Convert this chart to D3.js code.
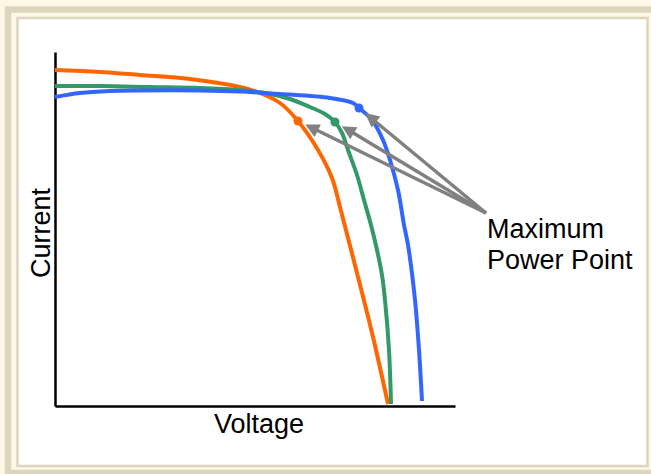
<!DOCTYPE html>
<html>
<head>
<meta charset="utf-8">
<script src="https://cdn.jsdelivr.net/npm/d3@7"></script>
<style>
  html, body { margin: 0; padding: 0; background: #fff6e6; }
  svg { display: block; }
  text { font-family: "Liberation Sans", Arial, sans-serif; fill: #000; }
</style>
</head>
<body>
<svg id="chart" width="651" height="474"></svg>
<script>
// ---- data (arbitrary units: voltage, current) ----
const orangeV = [0, 4.5, 8.5, 13.5, 18.5, 20.5, 22.5, 24.3, 26.3, 27.7, 28.5, 30.2, 31.8, 33.3];
const orangeI = [3.36, 3.34, 3.31, 3.27, 3.19, 3.13, 3.03, 2.85, 2.56, 2.28, 1.99, 1.33, 0.69, 0.02];

const greenV = [0, 4.5, 9.5, 14.5, 18.5, 21, 23.5, 25.5, 27, 28, 28.7, 29.3, 30.2, 30.9, 31.6, 32.2, 32.7, 33.0, 33.4, 33.6];
const greenI = [3.20, 3.20, 3.19, 3.18, 3.16, 3.13, 3.07, 2.99, 2.92, 2.84, 2.73, 2.56, 2.31, 2.06, 1.81, 1.56, 1.31, 1.06, 0.56, 0.02];

const blueV = [0, 2.5, 5.5, 8.5, 14.5, 18.5, 22.5, 27.5, 29.8, 30.4, 31.7, 32.8, 33.5, 34.3, 34.9, 35.3, 36, 36.4, 36.7];
const blueI = [3.09, 3.13, 3.15, 3.155, 3.155, 3.145, 3.12, 3.08, 3.03, 2.98, 2.86, 2.66, 2.46, 2.16, 1.81, 1.61, 1.06, 0.56, 0.05];

const seriesNames = ["orange", "green", "blue"];
const mppV = [24.3, 28.0, 30.4];
const mppI = [2.85, 2.84, 2.98];
const labelAnchor = [43.1, 1.93];   // where the arrows start (voltage, current)
const xTitle = "Voltage";
const yTitle = "Current";
const noteLines = ["Maximum", "Power Point"];

const colors = { orange: "#ff6600", green: "#339966", blue: "#3366ff" };

// ---- layout ----
const svg = d3.select("#chart");
const W = 651, H = 474;

// frame
svg.append("rect").attr("x", 0).attr("y", 0).attr("width", W).attr("height", H).attr("fill", "#fff6e6");
svg.append("rect").attr("x", 8).attr("y", 9.5).attr("width", 700).attr("height", 463.5)
  .attr("fill", "none").attr("stroke", "#ddd5bd").attr("stroke-width", 6.5);
svg.append("rect").attr("x", 17.5).attr("y", 18).attr("width", 630).attr("height", 448)
  .attr("fill", "#ffffff").attr("stroke", "#ddd5bf").attr("stroke-width", 2.5);

const x = d3.scaleLinear().domain([0, 40]).range([55, 455]);
const y = d3.scaleLinear().domain([0, 3.54]).range([406, 52]);

// axes (no ticks)
const xAxis = d3.axisBottom(x).tickValues([]).tickSizeOuter(0);
const yAxis = d3.axisLeft(y).tickValues([]).tickSizeOuter(0);
svg.append("g").attr("transform", `translate(0,${y(0)})`).call(xAxis)
  .select(".domain").attr("stroke", "#000").attr("stroke-width", 2.5);
svg.append("g").attr("transform", `translate(${x(0)},0)`).call(yAxis)
  .select(".domain").attr("stroke", "#000").attr("stroke-width", 2.5);

// curves
const line = d3.line().x(d => x(d[0])).y(d => y(d[1])).curve(d3.curveCatmullRom.alpha(0.5));
const seriesData = {
  orange: d3.zip(orangeV, orangeI),
  green: d3.zip(greenV, greenI),
  blue: d3.zip(blueV, blueI)
};
seriesNames.forEach(n => {
  svg.append("path").datum(seriesData[n])
    .attr("fill", "none").attr("stroke", colors[n])
    .attr("stroke-width", 4).attr("stroke-linejoin", "round")
    .attr("d", line);
});

// MPP dots
seriesNames.forEach((n, i) => {
  svg.append("circle").attr("cx", x(mppV[i])).attr("cy", y(mppI[i])).attr("r", 4.5)
    .attr("fill", colors[n]);
});

// arrows
const ax = x(labelAnchor[0]), ay = y(labelAnchor[1]);
seriesNames.forEach((n, i) => {
  const px = x(mppV[i]), py = y(mppI[i]);
  const dx = px - ax, dy = py - ay;
  const len = Math.hypot(dx, dy);
  const ux = dx / len, uy = dy / len;
  const tipX = ax + ux * (len - 8), tipY = ay + uy * (len - 8);
  const headL = 14, headW = 7;
  const bx = tipX - ux * headL, by = tipY - uy * headL;
  svg.append("line").attr("x1", ax).attr("y1", ay).attr("x2", bx + ux * 2).attr("y2", by + uy * 2)
    .attr("stroke", "#808080").attr("stroke-width", 3.5);
  svg.append("path")
    .attr("d", `M${tipX},${tipY}L${bx - uy * headW},${by + ux * headW}L${bx + uy * headW},${by - ux * headW}Z`)
    .attr("fill", "#808080");
});

// texts
svg.append("text").attr("x", 259).attr("y", 433).attr("text-anchor", "middle")
  .attr("font-size", 27).text(xTitle);
svg.append("text").attr("transform", "translate(50,233) rotate(-90)").attr("text-anchor", "middle")
  .attr("font-size", 27).text(yTitle);
const note = svg.append("text").attr("x", 487).attr("y", 238).attr("font-size", 27);
noteLines.forEach((t, i) => {
  note.append("tspan").attr("x", 487).attr("y", 238 + i * 31).text(t);
});
</script>
</body>
</html>
